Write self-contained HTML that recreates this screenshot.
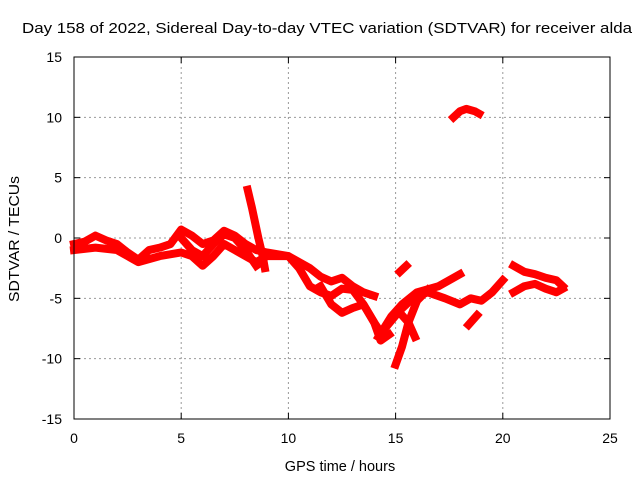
<!DOCTYPE html>
<html><head><meta charset="utf-8"><style>
html,body{margin:0;padding:0;background:#fff;}
svg{display:block;font-family:"Liberation Sans",sans-serif;}
</style></head><body>
<svg id="chart" width="640" height="480">
<text x="22" y="33" textLength="610" lengthAdjust="spacingAndGlyphs" font-size="15">Day 158 of 2022, Sidereal Day-to-day VTEC variation (SDTVAR) for receiver alda</text>
<text x="340" y="471" text-anchor="middle" font-size="14.5">GPS time / hours</text>
<text transform="translate(19,302) rotate(-90)" textLength="126" lengthAdjust="spacingAndGlyphs" font-size="14.5">SDTVAR / TECUs</text>
<g id="grid"></g>
<g id="ticks"></g>
<g id="series"></g>
<rect x="74" y="57" width="536" height="362" fill="none" stroke="#000" stroke-width="1"/>
</svg>
<script>
const xTicks=[0,5,10,15,20,25];
const yTicks=[15,10,5,0,-5,-10,-15];
const bandA=[[0,-0.5],[0.5,-0.3],[1,0.2],[1.5,-0.2],[2,-0.5],[2.5,-1.2],[3,-1.8],[3.5,-1.0],[4,-0.8],[4.5,-0.5],[5,0.7],[5.5,0.2],[6,-0.5],[6.5,-0.2],[7,0.6],[7.5,0.2],[8,-0.5],[8.5,-1.0],[9,-1.2],[10,-1.5],[10.5,-2],[11,-2.5],[11.5,-3.2],[12,-3.6],[12.5,-3.3],[13,-4],[13.5,-4.5],[14,-4.8]];
const bandB=[[0,-1],[1,-0.8],[2,-1],[3,-2],[4,-1.5],[5,-1.2],[5.5,-1.5],[6,-2.3],[6.5,-1.5],[7,-0.5],[7.5,-1],[8,-1.5],[8.5,-2],[9,-1.5],[10,-1.5],[10.5,-2.5],[11,-4],[11.5,-4.5],[12,-4.8],[12.5,-4.2],[13,-4.3],[13.5,-5.5],[14,-7],[14.3,-7.8]];
const bandC=[[5,0],[5.5,-1],[6,-1.5],[6.5,-0.5],[7,0.3],[7.5,0],[8,-1],[8.5,-2.3]];
const spike=[[8.1,4],[8.3,2.5],[8.6,0],[8.8,-1.5],[8.9,-2.5]];
const lowBranch=[[11.5,-4],[12,-5.5],[12.5,-6.2],[13,-5.8],[13.5,-5.5],[14,-7],[14.3,-8.5],[14.7,-8]];
const riseA=[[14.2,-8.2],[14.8,-6.5],[15.3,-5.5],[16,-4.5],[17,-4],[17.5,-3.5],[18,-3]];
const riseB=[[14.5,-7.5],[15.2,-6],[15.8,-5],[16.5,-4.5],[17.3,-5],[18,-5.5],[18.5,-5],[19,-5.2],[19.5,-4.5],[20,-3.5]];
const steep=[[15,-10.5],[15.3,-9],[15.6,-7],[16,-5.2],[16.5,-4.3]];
const cross=[[15.1,-6],[15.6,-7],[15.9,-8.2]];
const blipA=[[15.2,-2.8],[15.5,-2.3]];
const blipB=[[18.4,-7.2],[18.8,-6.4]];
const lateA=[[20.5,-2.3],[21,-2.8],[21.5,-3],[22,-3.3],[22.5,-3.5],[22.8,-4]];
const lateB=[[20.5,-4.5],[21,-4],[21.5,-3.8],[22,-4.2],[22.5,-4.5],[22.8,-4.2]];
const arc=[[17.7,10],[18,10.5],[18.3,10.7],[18.7,10.5],[18.9,10.3]];
const allSeries=[bandA,bandB,bandC,spike,lowBranch,riseA,riseB,steep,cross,blipA,blipB,lateA,lateB,arc];
const NS="http://www.w3.org/2000/svg";
const X=v=>74+v*(536/25);
const Y=v=>238-v*(362/30);
const grid=document.getElementById('grid'),ticks=document.getElementById('ticks'),ser=document.getElementById('series');
function mk(t,a,p){const e=document.createElementNS(NS,t);for(const k in a)e.setAttribute(k,a[k]);p.appendChild(e);return e;}
xTicks.forEach(t=>{
  const x=X(t);
  if(t>0&&t<25){const g=mk('line',{x1:x,x2:x,y1:57,y2:419,stroke:'#999','stroke-dasharray':'2,3'},grid);
  
  }
  mk('line',{x1:x,x2:x,y1:419,y2:413,stroke:'#000'},ticks);
  mk('line',{x1:x,x2:x,y1:57,y2:63,stroke:'#000'},ticks);
  const l=mk('text',{x:x,y:443,'text-anchor':'middle','font-size':14},ticks);l.textContent=t;
  
  
});
yTicks.forEach(t=>{
  const y=Y(t);
  if(t<15&&t>-15){const g=mk('line',{x1:74,x2:610,y1:y,y2:y,stroke:'#999','stroke-dasharray':'2,3'},grid);
  
  }
  mk('line',{x1:74,x2:80,y1:y,y2:y,stroke:'#000'},ticks);
  mk('line',{x1:610,x2:604,y1:y,y2:y,stroke:'#000'},ticks);
  const l=mk('text',{x:62,y:y+5,'text-anchor':'end','font-size':14},ticks);l.textContent=t;
  
  
});
allSeries.forEach(s=>{
  const p=mk('polyline',{points:s.map(d=>X(d[0])+','+Y(d[1])).join(' '),fill:'none',stroke:'#ff0000','stroke-width':8,'stroke-linejoin':'round','stroke-linecap':'square'},ser);
  
  
});
</script>
</body></html>
